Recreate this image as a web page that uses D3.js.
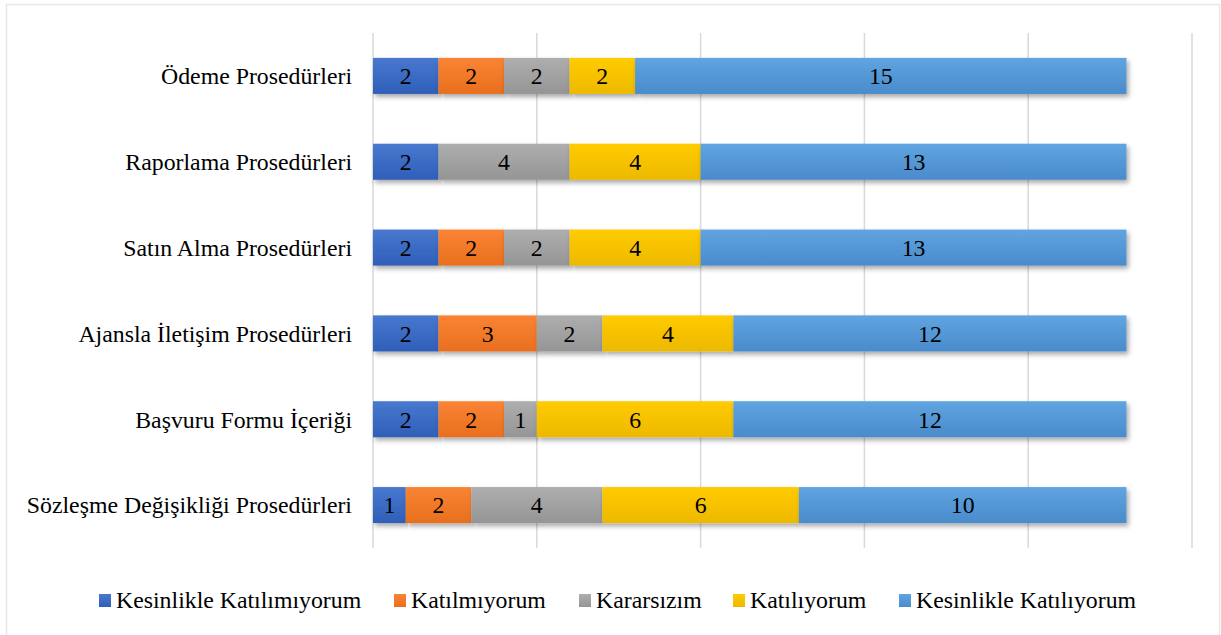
<!DOCTYPE html>
<html>
<head>
<meta charset="utf-8">
<script src="https://cdn.jsdelivr.net/npm/d3@7"></script>
<style>
  body { margin: 0; background: #fff; }
</style>
</head>
<body>
<div id="chart"></div>
<script>
// categories top to bottom, and one value array per answer
const categories = ["Ödeme Prosedürleri", "Raporlama Prosedürleri", "Satın Alma Prosedürleri",
                    "Ajansla İletişim Prosedürleri", "Başvuru Formu İçeriği", "Sözleşme Değişikliği Prosedürleri"];
const seriesNames = ["Kesinlikle Katılımıyorum", "Katılmıyorum", "Kararsızım", "Katılıyorum", "Kesinlikle Katılıyorum"];
const kesinlikleKatilmiyorum = [2, 2, 2, 2, 2, 1];
const katilmiyorum          = [2, 0, 2, 3, 2, 2];
const kararsizim            = [2, 4, 2, 2, 1, 4];
const katiliyorum           = [2, 4, 4, 4, 6, 6];
const kesinlikleKatiliyorum = [15, 13, 13, 12, 12, 10];
const xTicks = [0, 5, 10, 15, 20, 25];
const colors = ["#4472C4", "#ED7D31", "#A5A5A5", "#FFC000", "#5B9BD5"];
const darker = ["#2F5FB8", "#E86F1E", "#959595", "#EDB900", "#4A8BCB"];

const W = 1221, H = 635;
const FONT = "Liberation Serif";
const FS = 23.8;
const svg = d3.select("#chart").append("svg").attr("width", W).attr("height", H)
   .attr("font-family", FONT);

// outer frame
svg.append("rect").attr("x", 6.5).attr("y", 4.5).attr("width", 1213).attr("height", 640)
   .attr("fill", "#fff").attr("stroke", "#e8e8e8").attr("stroke-width", 1.5);

const defs = svg.append("defs");
colors.forEach((c, i) => {
  const g = defs.append("linearGradient").attr("id", "g" + i)
      .attr("x1", 0).attr("y1", 0).attr("x2", 0).attr("y2", 1);
  g.append("stop").attr("offset", "0%").attr("stop-color", d3.color(c).brighter(0.15));
  g.append("stop").attr("offset", "100%").attr("stop-color", darker[i]);
});
const f = defs.append("filter").attr("id", "shadow").attr("x", "-5%").attr("y", "-30%")
    .attr("width", "110%").attr("height", "180%");
f.append("feDropShadow").attr("dx", 2).attr("dy", 3).attr("stdDeviation", 2.5)
    .attr("flood-color", "#000").attr("flood-opacity", 0.35);

const x = d3.scaleLinear().domain([0, 25]).range([373, 1192]);
const y = d3.scaleBand().domain(categories).range([33, 548]).paddingInner(0.58).paddingOuter(0.29);

// vertical gridlines
svg.append("g").selectAll("line").data(xTicks).join("line")
   .attr("x1", d => x(d)).attr("x2", d => x(d)).attr("y1", 33).attr("y2", 548)
   .attr("stroke", "#d9d9d9").attr("stroke-width", 1.5);

const table = categories.map((c, i) => ({
  cat: c,
  [seriesNames[0]]: kesinlikleKatilmiyorum[i],
  [seriesNames[1]]: katilmiyorum[i],
  [seriesNames[2]]: kararsizim[i],
  [seriesNames[3]]: katiliyorum[i],
  [seriesNames[4]]: kesinlikleKatiliyorum[i]
}));
const stacked = d3.stack().keys(seriesNames)(table);

const layers = svg.append("g").selectAll("g").data(stacked).join("g")
   .attr("fill", (_, i) => `url(#g${i})`);

layers.selectAll("rect").data(d => d.filter(s => s[1] > s[0])).join("rect")
   .attr("x", d => x(d[0])).attr("width", d => x(d[1]) - x(d[0]))
   .attr("y", d => y(d.data.cat)).attr("height", y.bandwidth())
   .attr("filter", "url(#shadow)");

// value labels
svg.append("g").selectAll("g").data(stacked).join("g")
   .selectAll("text").data(d => d.filter(s => s[1] > s[0])).join("text")
   .attr("x", d => (x(d[0]) + x(d[1])) / 2)
   .attr("y", d => y(d.data.cat) + y.bandwidth() / 2)
   .attr("dy", "0.35em").attr("text-anchor", "middle")
   .attr("font-family", FONT).attr("font-size", FS).attr("fill", "#000")
   .text(d => d[1] - d[0]);

// category labels
svg.append("g").selectAll("text").data(categories).join("text")
   .attr("x", 352).attr("y", d => y(d) + y.bandwidth() / 2)
   .attr("dy", "0.35em").attr("text-anchor", "end")
   .attr("font-family", FONT).attr("font-size", FS).attr("fill", "#000")
   .text(d => d);

// legend (Excel spacing is uneven, so positions are listed)
const legendX = [99, 394, 579, 733, 899];
const legend = svg.append("g").selectAll("g").data(seriesNames).join("g")
   .attr("transform", (_, i) => `translate(${legendX[i]},600)`);
legend.append("rect").attr("x", 0).attr("y", -6).attr("width", 12).attr("height", 13)
   .attr("fill", (_, i) => `url(#g${i})`);
legend.append("text").attr("x", 17).attr("dy", "0.35em")
   .attr("font-family", FONT).attr("font-size", FS).attr("fill", "#000").text(d => d);
</script>
</body>
</html>
